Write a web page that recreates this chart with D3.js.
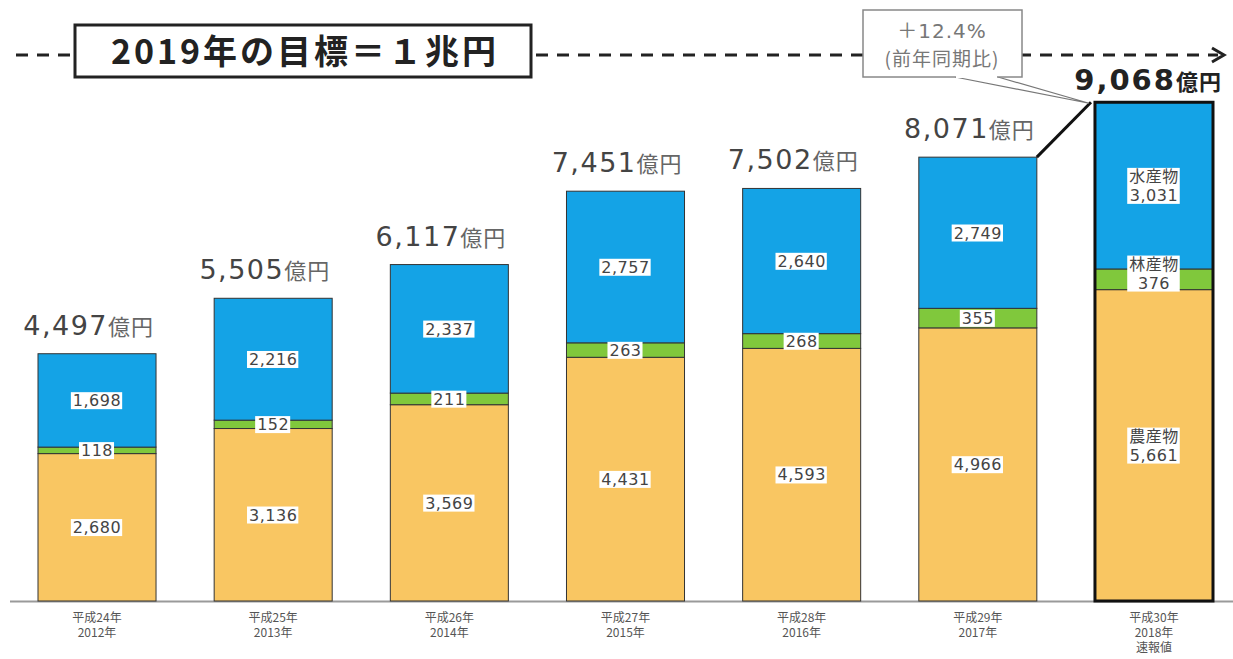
<!DOCTYPE html>
<html>
<head>
<meta charset="utf-8">
<script src="https://cdn.jsdelivr.net/npm/d3@7"></script>
<style>
  body { margin: 0; background: #fff; }
  svg { display: block; }
  text { font-family: "DejaVu Sans", "Noto Sans CJK JP", sans-serif; }
  .jp { font-family: "Noto Sans CJK JP", sans-serif; }
</style>
</head>
<body>
<div id="chart"></div>
<script>
const years = ["平成24年", "平成25年", "平成26年", "平成27年", "平成28年", "平成29年", "平成30年"];
const yearsAD = ["2012年", "2013年", "2014年", "2015年", "2016年", "2017年", "2018年"];
const agri = [2680, 3136, 3569, 4431, 4593, 4966, 5661];
const forest = [118, 152, 211, 263, 268, 355, 376];
const fish = [1698, 2216, 2337, 2757, 2640, 2749, 3031];
const totals = [4497, 5505, 6117, 7451, 7502, 8071, 9068];

const width = 1233, height = 659;
const svg = d3.select("#chart").append("svg")
    .attr("width", width)
    .attr("height", height);

const x = d3.scaleBand()
    .domain(d3.range(years.length))
    .range([38, 1213])
    .paddingInner(0.33)
    .paddingOuter(0);

const y = d3.scaleLinear()
    .domain([0, 10000])
    .range([601, 51]);

const colors = { agri: "#f9c662", forest: "#80c83c", fish: "#14a3e6" };
const fmt = d3.format(",");

// stacked rows
const rows = years.map((d, i) => ({ i, agri: agri[i], forest: forest[i], fish: fish[i] }));
const keys = ["agri", "forest", "fish"];
const stack = d3.stack().keys(keys)(rows);

// baseline
svg.append("line")
    .attr("x1", 10).attr("x2", width)
    .attr("y1", y(0) + 0.5).attr("y2", y(0) + 0.5)
    .attr("stroke", "#9a9a9a").attr("stroke-width", 2);

const layers = svg.append("g").selectAll("g")
    .data(stack)
    .join("g")
    .attr("fill", d => colors[d.key]);

layers.selectAll("rect")
    .data(d => d)
    .join("rect")
    .attr("x", d => x(d.data.i))
    .attr("y", d => y(d[1]))
    .attr("width", x.bandwidth())
    .attr("height", d => y(d[0]) - y(d[1]))
    .attr("stroke", "#333")
    .attr("stroke-width", 1);

// thick outline on the last (preliminary) bar
const last = years.length - 1;
svg.append("rect")
    .attr("x", x(last))
    .attr("y", y(totals[last]))
    .attr("width", x.bandwidth())
    .attr("height", y(0) - y(totals[last]))
    .attr("fill", "none")
    .attr("stroke", "#111")
    .attr("stroke-width", 3);

// value labels with white boxes
function boxedLabel(g, cx, cy, lines, size) {
  const t = g.append("text")
      .attr("text-anchor", "middle")
      .attr("font-size", size)
      .attr("letter-spacing", 0.5)
      .attr("fill", "#444");
  lines.forEach((s, k) => {
    t.append("tspan")
        .attr("x", cx)
        .attr("y", cy + (k - (lines.length - 1) / 2) * (size + 3) + size * 0.36)
        .text(s);
  });
  const b = t.node().getBBox();
  g.insert("rect", () => t.node())
      .attr("x", b.x - 2).attr("y", b.y + 1)
      .attr("width", b.width + 3).attr("height", b.height - 2)
      .attr("fill", "#fff");
}

const labels = svg.append("g");
const names = { agri: "農産物", forest: "林産物", fish: "水産物" };
stack.forEach(layer => {
  layer.forEach(d => {
    const i = d.data.i;
    const cx = x(i) + x.bandwidth() / 2;
    let cy = (y(d[0]) + y(d[1])) / 2;
    const val = fmt(d.data[layer.key]);
    if (i === last) {
      if (layer.key === "forest") cy -= 6;
      boxedLabel(labels.append("g"), cx, cy, [names[layer.key], val], 16);
    } else {
      boxedLabel(labels.append("g"), cx, cy, [val], 16);
    }
  });
});

// totals above bars
totals.forEach((v, i) => {
  const isLast = i === last;
  const t = svg.append("text")
      .attr("x", x(i) + x.bandwidth() + (isLast ? 9 : -2))
      .attr("y", y(v) - (isLast ? 12 : 19))
      .attr("text-anchor", "end")
      .attr("fill", isLast ? "#222" : "#444")
      .attr("font-weight", isLast ? "bold" : "normal");
  t.append("tspan").attr("font-size", isLast ? 29 : 27).attr("letter-spacing", isLast ? 2 : 1.5).text(fmt(v));
  t.append("tspan").attr("class", "jp").attr("font-size", 22)
      .attr("fill", isLast ? "#222" : "#666").attr("letter-spacing", 1).text("億円");
});

// x axis labels
const xl = svg.append("g").attr("fill", "#555").attr("font-size", 12);
years.forEach((s, i) => {
  const cx = x(i) + x.bandwidth() / 2;
  const lines = i === last ? [s, yearsAD[i], "速報値"] : [s, yearsAD[i]];
  lines.forEach((l, k) => {
    xl.append("text")
        .attr("class", "jp")
        .attr("x", cx).attr("y", 622 + k * 15)
        .attr("text-anchor", "middle")
        .text(l);
  });
});

// target line
const ty = 55;
const dash = svg.append("g").attr("stroke", "#222").attr("stroke-width", 3)
    .attr("stroke-dasharray", "12,9");
dash.append("line").attr("x1", 16).attr("x2", 74).attr("y1", ty).attr("y2", ty);
dash.append("line").attr("x1", 536).attr("x2", 1218).attr("y1", ty).attr("y2", ty);
svg.append("path")
    .attr("d", `M1212,${ty - 7} L1224,${ty} L1212,${ty + 7}`)
    .attr("fill", "none").attr("stroke", "#222").attr("stroke-width", 3);

svg.append("rect")
    .attr("x", 75).attr("y", 25).attr("width", 456).attr("height", 52)
    .attr("fill", "#fff").attr("stroke", "#222").attr("stroke-width", 3);
svg.append("text")
    .attr("class", "jp")
    .attr("x", 305).attr("y", 64)
    .attr("text-anchor", "middle")
    .attr("font-size", 34).attr("font-weight", "bold").attr("fill", "#222")
    .attr("letter-spacing", 3)
    .text("2019年の目標＝１兆円");

// growth annotation
const bx = x(last), by = y(totals[last]);
const px = x(last - 1) + x.bandwidth(), py = y(totals[last - 1]);
svg.append("line")
    .attr("x1", px).attr("y1", py).attr("x2", bx - 4).attr("y2", by)
    .attr("stroke", "#111").attr("stroke-width", 3);
svg.append("path")
    .attr("d", `M955,77 L${bx - 6},${by + 1} L998,77`)
    .attr("fill", "#fff").attr("stroke", "#777").attr("stroke-width", 1.2);
svg.append("rect")
    .attr("x", 863).attr("y", 10).attr("width", 159).attr("height", 67)
    .attr("fill", "#fff").attr("stroke", "#888").attr("stroke-width", 1.5);
svg.append("line")
    .attr("x1", 956).attr("x2", 997).attr("y1", 77).attr("y2", 77)
    .attr("stroke", "#fff").attr("stroke-width", 2);
svg.append("text")
    .attr("x", 942).attr("y", 38)
    .attr("text-anchor", "middle")
    .attr("font-size", 20).attr("fill", "#777").attr("letter-spacing", 1)
    .text("＋12.4%");
svg.append("text")
    .attr("class", "jp")
    .attr("x", 942).attr("y", 66)
    .attr("text-anchor", "middle")
    .attr("font-size", 19).attr("fill", "#777").attr("letter-spacing", 1)
    .text("(前年同期比)");
</script>
</body>
</html>
